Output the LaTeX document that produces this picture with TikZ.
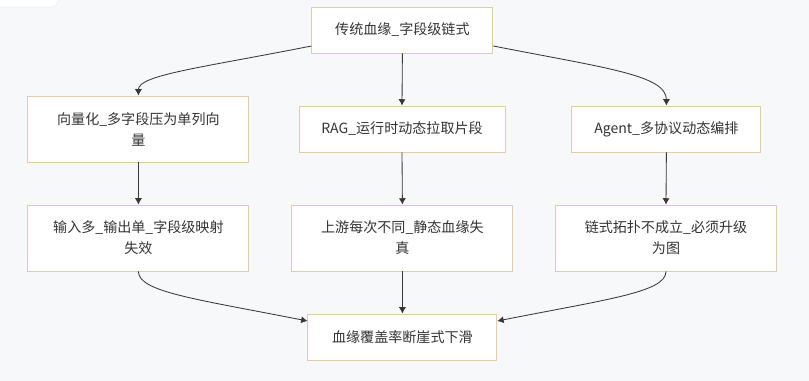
\documentclass[tikz,border=0pt]{standalone}
\usepackage{fontspec}
\usepackage{xcolor}
\usepackage{tikz}
\usetikzlibrary{arrows.meta,positioning}
\newfontfamily\cjk{Noto Sans CJK SC}
\definecolor{cBack}{RGB}{247,248,250}
\definecolor{cEdge}{RGB}{226,205,170}
\definecolor{cInk}{RGB}{51,51,51}
\definecolor{cLine}{RGB}{60,55,55}

\begin{document}
\begin{tikzpicture}[
  box/.style={draw=cEdge, line width=0.6pt, fill=white, align=center, text=cInk,
    font=\cjk\fontsize{10}{15}\selectfont, inner sep=2pt},
  wide/.style={box, minimum width=5.525cm, minimum height=1.65cm},
  flow/.style={draw=cLine, line width=0.6pt, -{Latex[length=4.5pt,width=5pt]}},
]
  \fill[cBack] (0,0) rectangle (20.225,9.525);
  \useasboundingbox (0,0) rectangle (20.225,9.525);
  \fill[white, draw=gray!12, rounded corners=5pt] (-0.4,9.35) rectangle (1.45,9.9);

  \node[box, minimum width=4.525cm, minimum height=1.15cm] at (10.06,8.775) (trad) {传统血缘\_字段级链式};

  \node[wide] at (3.46,6.3) (vec) {向量化\_多字段压为单列向\\量};
  \node[box, minimum width=5.15cm, minimum height=1.15cm] at (10.05,6.3) (rag) {RAG\_运行时动态拉取片段};
  \node[box, minimum width=4.725cm, minimum height=1.15cm] at (16.66,6.3) (agent) {Agent\_多协议动态编排};

  \node[wide] at (3.46,3.575) (inp) {输入多\_输出单\_字段级映射\\失效};
  \node[wide] at (10.06,3.575) (ups) {上游每次不同\_静态血缘失\\真};
  \node[wide] at (16.65,3.575) (topo) {链式拓扑不成立\_必须升级\\为图};

  \node[box, minimum width=4.725cm, minimum height=1.15cm] at (10.06,1.1) (drop) {血缘覆盖率断崖式下滑};

  % top fan-out
  \draw[flow] ([yshift=-0.4cm]trad.west) .. controls (5.0,7.825) and (3.46,7.65) .. (vec.north);
  \draw[flow] (trad.south) -- (rag.north);
  \draw[flow] ([yshift=-0.4cm]trad.east) .. controls (15.125,7.825) and (16.66,7.65) .. (agent.north);

  \draw[flow] (vec.south) -- (inp.north);
  \draw[flow] (rag.south) -- (ups.north);
  \draw[flow] (agent.south) -- (topo.north);

  % fan-in
  \draw[flow] (inp.south) .. controls (3.46,2.225) and (4.9,2.05) .. ([yshift=0.4cm]drop.west);
  \draw[flow] (ups.south) -- (drop.north);
  \draw[flow] (topo.south) .. controls (16.65,2.225) and (15.225,2.05) .. ([yshift=0.4cm]drop.east);
\end{tikzpicture}
\end{document}
